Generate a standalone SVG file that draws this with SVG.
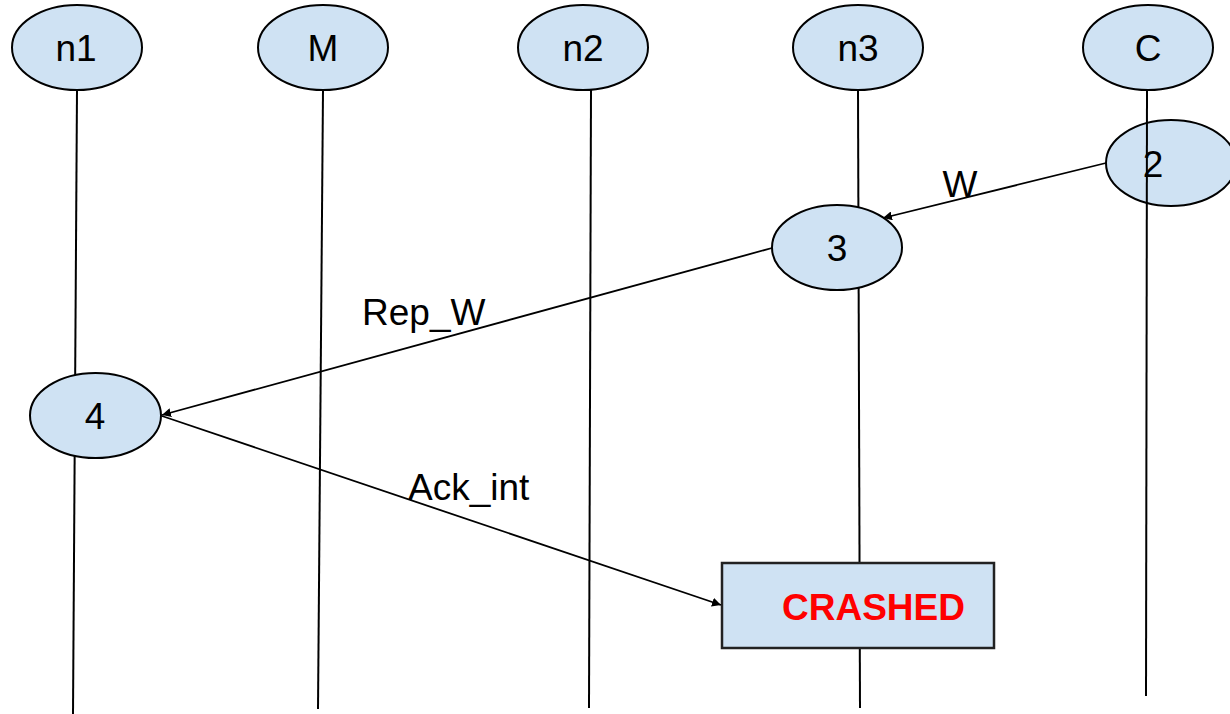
<svg xmlns="http://www.w3.org/2000/svg" width="1230" height="714" viewBox="0 0 1230 714">
  <style>
    .node { fill: #cfe2f3; stroke: #000; stroke-width: 2; }
    .life { stroke: #000; stroke-width: 2; fill: none; }
    .msg { stroke: #000; stroke-width: 1.8; fill: none; marker-end: url(#arrow); }
    .lbl { font-family: "Liberation Sans", Arial, sans-serif; font-size: 37px; fill: #000; }
    .c { text-anchor: middle; }
    .crash { font-family: "Liberation Sans", Arial, sans-serif; font-size: 37px; font-weight: bold; fill: #ff0000; }
  </style>
  <defs>
    <marker id="arrow" viewBox="0 0 10 10" refX="10" refY="5" markerWidth="9" markerHeight="9" markerUnits="userSpaceOnUse" orient="auto">
      <path d="M0,0 L10,5 L0,10 z" fill="#000"/>
    </marker>
  </defs>
  <rect width="1230" height="714" fill="#fff"/>

  <!-- lifelines drawn first so event nodes sit on top -->
  <g id="lifelines">
    <line class="life" x1="77" y1="90" x2="73" y2="714"/>
    <line class="life" x1="323" y1="90" x2="318" y2="709"/>
    <line class="life" x1="591" y1="90" x2="589" y2="708"/>
    <line class="life" x1="858" y1="90" x2="860" y2="708"/>
  </g>

  <g id="n1"><ellipse class="node" cx="77" cy="47.5" rx="65" ry="42.5"/><text class="lbl c" x="76" y="61">n1</text></g>
  <g id="M"><ellipse class="node" cx="323" cy="47.5" rx="65" ry="42.5"/><text class="lbl c" x="323" y="61">M</text></g>
  <g id="n2"><ellipse class="node" cx="583" cy="47.5" rx="65" ry="42.5"/><text class="lbl c" x="583" y="61">n2</text></g>
  <g id="n3"><ellipse class="node" cx="858" cy="47.5" rx="65" ry="42.5"/><text class="lbl c" x="858" y="61">n3</text></g>
  <g id="C"><ellipse class="node" cx="1148" cy="47.5" rx="65" ry="42.5"/><text class="lbl c" x="1148" y="61">C</text></g>

  <g id="e2"><ellipse class="node" cx="1171" cy="163" rx="65" ry="43"/></g>
  <!-- client lifeline runs over its event node -->
  <g id="lifeline-C"><line class="life" x1="1147" y1="90" x2="1146" y2="696"/></g>
  <text class="lbl c" x="1153" y="177">2</text>

  <g id="e3"><ellipse class="node" cx="837" cy="247.5" rx="65" ry="42.5"/><text class="lbl c" x="837" y="261">3</text></g>
  <g id="e4"><ellipse class="node" cx="95.5" cy="415.5" rx="65.5" ry="42.5"/><text class="lbl c" x="95" y="429">4</text></g>

  <g id="crashed">
    <rect x="722" y="563" width="272" height="85" fill="#cfe2f3" stroke="#222" stroke-width="2.5"/>
    <text class="crash" x="782" y="620">CRASHED</text>
  </g>

  <g id="connectors">
    <line class="msg" x1="1106" y1="163" x2="883" y2="218"/>
    <line class="msg" x1="772" y1="248" x2="162" y2="415"/>
    <line class="msg" x1="162" y1="416" x2="721" y2="605"/>
  </g>

  <g id="labels">
    <text class="lbl c" x="960" y="197">W</text>
    <text class="lbl" x="362" y="325">Rep_W</text>
    <text class="lbl" x="408" y="500">Ack_int</text>
  </g>
</svg>
